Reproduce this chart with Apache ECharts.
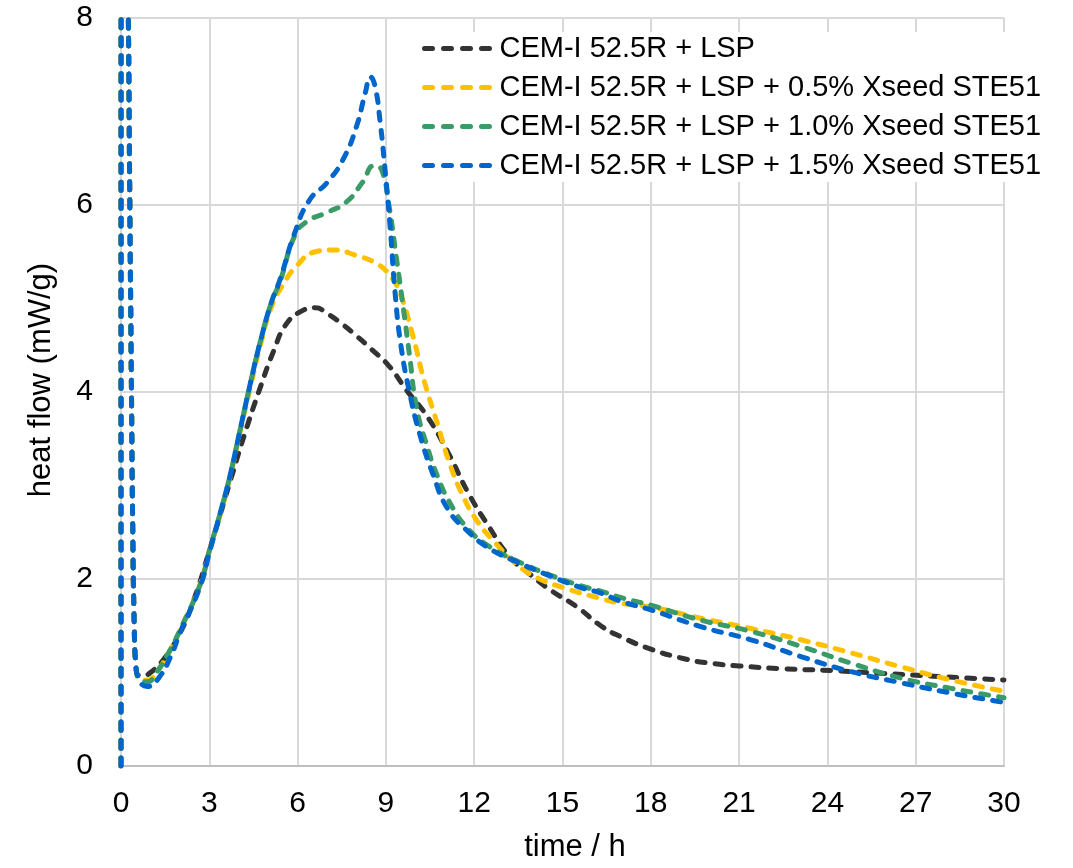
<!DOCTYPE html>
<html>
<head>
<meta charset="utf-8">
<script src="https://cdn.jsdelivr.net/npm/echarts@6/dist/echarts.min.js"></script>
<style>
html,body{margin:0;padding:0;background:#fff;}
#chart{width:1073px;height:868px;}
</style>
</head>
<body>
<div id="chart"></div>
<script>
// ---- data (time in h, heat flow in mW/g) ----
var seriesNames = [
  'CEM-I 52.5R + LSP',
  'CEM-I 52.5R + LSP + 0.5% Xseed STE51',
  'CEM-I 52.5R + LSP + 1.0% Xseed STE51',
  'CEM-I 52.5R + LSP + 1.5% Xseed STE51'
];
var xTicks = [0, 3, 6, 9, 12, 15, 18, 21, 24, 27, 30];
var yTicks = [0, 2, 4, 6, 8];

var blackT = [0,0.02,0.15,0.25,0.3,0.35,0.4,0.45,0.5,0.6,0.8,1.0,1.4,2.0,2.5,3.0,3.4,3.8,4.2,4.7,5.2,5.6,6.1,6.6,7.0,7.5,8.0,8.5,9.1,9.7,10.4,11.1,11.8,12.5,13.2,13.9,14.6,15.5,16.3,17.0,18.0,19.1,20.0,21.0,22.5,24.2,25.9,27.6,30];
var blackY = [0,14,11,8,6,4.2,2.5,1.5,1.1,0.97,0.97,1.0,1.12,1.42,1.8,2.3,2.72,3.14,3.55,4.02,4.45,4.72,4.86,4.9,4.84,4.73,4.6,4.46,4.28,4.02,3.74,3.36,2.92,2.56,2.24,2.05,1.88,1.70,1.5,1.38,1.25,1.15,1.1,1.07,1.04,1.02,0.99,0.96,0.92];

var yellowT = [0,0.02,0.15,0.25,0.3,0.35,0.4,0.45,0.5,0.65,0.9,1.2,1.6,2.0,2.7,3.0,3.4,3.7,4.05,4.4,4.75,5.1,5.45,6.0,6.6,7.2,8.0,8.7,9.1,9.45,9.9,10.3,10.75,11.15,11.6,12.1,12.65,13.4,14.1,15.0,16.2,17.0,18.0,19.7,21.4,23.1,24.8,26.5,28.2,30];
var yellowY = [0,14,11,8,6,4.2,2.5,1.5,1.1,0.93,0.92,1.0,1.2,1.45,1.95,2.3,2.72,3.09,3.58,4.06,4.52,4.9,5.12,5.36,5.5,5.52,5.46,5.37,5.26,5.08,4.62,4.12,3.66,3.25,2.9,2.62,2.41,2.17,2.02,1.91,1.8,1.74,1.7,1.58,1.47,1.35,1.21,1.06,0.92,0.8];

var greenT = [0,0.02,0.15,0.25,0.3,0.35,0.4,0.45,0.5,0.65,0.9,1.2,1.6,2.0,2.7,3.0,3.4,3.7,4.05,4.4,4.75,5.1,5.4,5.9,6.3,7.0,7.65,8.2,8.6,8.85,9.1,9.35,9.6,9.8,10.05,10.4,10.75,11.2,11.75,12.5,13.4,14.6,15.7,16.3,17.0,18.0,19.7,21.4,23.1,24.8,26.5,28.2,30];
var greenY = [0,14,11,8,6,4.2,2.5,1.5,1.1,0.92,0.9,1.0,1.2,1.45,1.95,2.3,2.74,3.1,3.6,4.1,4.56,4.95,5.18,5.67,5.82,5.92,6.03,6.24,6.42,6.38,6.0,5.45,4.88,4.4,3.82,3.42,3.1,2.8,2.55,2.35,2.2,2.04,1.92,1.87,1.8,1.72,1.56,1.44,1.28,1.10,0.94,0.83,0.73];

var blueT = [0,0.02,0.15,0.25,0.3,0.35,0.4,0.45,0.5,0.65,0.9,1.3,1.7,2.0,2.7,3.0,3.4,3.7,4.05,4.4,4.75,5.1,5.4,5.9,6.4,7.0,7.55,8.0,8.3,8.47,8.63,8.8,8.97,9.14,9.31,9.5,9.8,10.15,10.6,11.1,11.75,12.5,13.4,14.6,15.7,16.3,17.0,18.0,19.7,21.4,23.1,24.8,26.5,28.2,30];
var blueY = [0,14,11,8,6,4.2,2.5,1.5,1.1,0.9,0.85,0.95,1.18,1.42,1.93,2.28,2.74,3.1,3.6,4.1,4.56,4.95,5.2,5.7,6.05,6.24,6.49,6.84,7.2,7.37,7.27,6.9,6.38,5.78,5.07,4.52,4.0,3.55,3.12,2.75,2.52,2.33,2.19,2.03,1.9,1.85,1.76,1.67,1.49,1.35,1.17,1.01,0.89,0.78,0.68];

var colors = ['#333333', '#FFC000', '#3A9A68', '#0066CC'];

function zip(t, y) { return t.map(function (v, i) { return [v, y[i]]; }); }
var allData = [zip(blackT, blackY), zip(yellowT, yellowY), zip(greenT, greenY), zip(blueT, blueY)];

var FONT = "'Liberation Sans', Arial, sans-serif";
var chart = echarts.init(document.getElementById('chart'), null, {renderer: 'canvas'});

var series = allData.map(function (d, i) {
  return {
    name: seriesNames[i],
    type: 'line',
    data: d,
    symbol: 'none',
    smooth: 0.5,
    clip: true,
    z: 2 + i,
    legendIcon: 'none',
    lineStyle: { color: colors[i], width: 5, type: [8, 10], cap: 'round', join: 'round' },
    itemStyle: { color: colors[i] }
  };
});

chart.setOption({
  animation: false,
  backgroundColor: '#ffffff',
  textStyle: { fontFamily: FONT },
  grid: { left: 121, right: 69, top: 18, bottom: 98 },
  legend: {
    orient: 'vertical',
    left: 418,
    top: 32,
    itemWidth: 70,
    itemHeight: 10,
    itemGap: 10,
    padding: [2, 10, 2, 4],
    backgroundColor: '#ffffff',
    data: seriesNames,
    itemStyle: { opacity: 0 },
    lineStyle: { width: 5, type: [8, 11], cap: 'round' },
    textStyle: { fontSize: 29, color: '#000', fontFamily: FONT, padding: [0, 0, 0, 0] }
  },
  xAxis: {
    type: 'value',
    min: 0, max: 30, interval: 3,
    name: 'time / h',
    nameLocation: 'middle',
    nameGap: 66,
    nameTextStyle: { fontSize: 31, color: '#000', fontFamily: FONT, padding: [0, 0, 0, 25] },
    axisLine: { show: true, lineStyle: { color: '#BFBFBF', width: 2 } },
    axisTick: { show: false },
    axisLabel: { fontSize: 30, color: '#000', margin: 23, fontFamily: FONT,
      formatter: function (v) { return xTicks.indexOf(v) >= 0 ? String(v) : ''; } },
    splitLine: { show: true, lineStyle: { color: '#D9D9D9', width: 2 } }
  },
  yAxis: {
    type: 'value',
    min: 0, max: 8, interval: 2,
    name: 'heat flow (mW/g)',
    nameLocation: 'middle',
    nameGap: 64,
    nameRotate: 90,
    nameTextStyle: { fontSize: 31, color: '#000', fontFamily: FONT, padding: [0, 0, 0, 24] },
    axisLine: { show: false },
    axisTick: { show: false },
    axisLabel: { fontSize: 30, color: '#000', margin: 28, fontFamily: FONT,
      formatter: function (v) { return yTicks.indexOf(v) >= 0 ? String(v) : ''; } },
    splitLine: { show: true, lineStyle: { color: '#D9D9D9', width: 2 } }
  },
  series: series
});
</script>
</body>
</html>
